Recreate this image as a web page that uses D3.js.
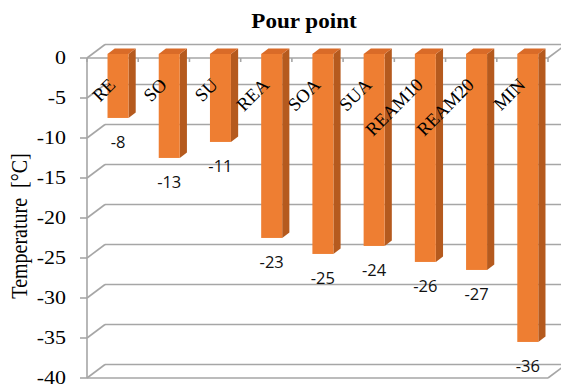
<!DOCTYPE html>
<html>
<head>
<meta charset="utf-8">
<script src="https://cdn.jsdelivr.net/npm/d3@7"></script>
<style>
  html, body { margin: 0; padding: 0; background: #fff; }
  svg { display: block; }
</style>
</head>
<body>
<svg id="chart" width="561" height="389"></svg>
<script>
// Pour point of each sample, °C
const categories = ["RE", "SO", "SU", "REA", "SOA", "SUA", "REAM10", "REAM20", "MIN"];
const pourPoint = [-8, -13, -11, -23, -25, -24, -26, -27, -36];
const yTicks = [0, -5, -10, -15, -20, -25, -30, -35, -40];

const svg = d3.select("#chart");

// plot frame (front plane) and the pseudo-3D depth offset
const plotL = 87, plotR = 548, plotT = 58, plotB = 378;
const DX = 18, DY = -13.5;          // offset of the back wall
const f0 = 0.3, f1 = 0.7;           // bar depth span, as fraction of the wall depth

const x = d3.scaleBand().domain(categories).range([plotL, plotR]);
const y = d3.scaleLinear().domain([-40, 0]).range([plotB, plotT]);
const barW = x.bandwidth() * 0.41;

const serif = "'Liberation Serif', 'Times New Roman', serif";

const grid = svg.append("g")
  .attr("fill", "none")
  .attr("stroke", "#a6a6a6")
  .attr("stroke-width", 1.6);

// back wall gridlines and the left-wall diagonals
yTicks.forEach(t => {
  const yy = y(t);
  grid.append("line").attr("x1", plotL + DX).attr("x2", plotR + DX + 20)
    .attr("y1", yy + DY).attr("y2", yy + DY);
  grid.append("line").attr("x1", plotL).attr("x2", plotL + DX)
    .attr("y1", yy).attr("y2", yy + DY);
  // y tick mark
  grid.append("line").attr("x1", plotL - 7).attr("x2", plotL)
    .attr("y1", yy).attr("y2", yy);
});

// front vertical axis
grid.append("line").attr("x1", plotL).attr("x2", plotL).attr("y1", plotT).attr("y2", plotB);
// front edges at the top (0) and floor (-40), with right-hand diagonals
[0, -40].forEach(t => {
  const yy = y(t);
  grid.append("line").attr("x1", plotL).attr("x2", plotR).attr("y1", yy).attr("y2", yy);
  grid.append("line").attr("x1", plotR).attr("x2", plotR + DX).attr("y1", yy).attr("y2", yy + DY);
});
// category ticks along the top front edge
d3.range(categories.length + 1).forEach(i => {
  const xx = plotL + i * x.step();
  grid.append("line").attr("x1", xx).attr("x2", xx).attr("y1", y(0)).attr("y2", y(0) + 4);
});

// y tick labels (slightly wide-set type)
svg.append("g").selectAll("text").data(yTicks).join("text")
  .attr("transform", d => `translate(66,${y(d)}) scale(1.22,1)`)
  .attr("dy", "0.35em")
  .attr("text-anchor", "end")
  .attr("font-family", serif)
  .attr("font-size", 18)
  .attr("fill", "#000")
  .text(d => d);

// bars: front face, right side face, top face
const bars = svg.append("g").selectAll("g").data(categories).join("g");
bars.each(function (c, i) {
  const g = d3.select(this);
  const v = pourPoint[i];
  const xc = x(c) + x.bandwidth() / 2;
  const x0 = xc - barW / 2 + f0 * DX, x1 = x0 + barW;
  const yT = y(0) + f0 * DY, yB = y(v) + f0 * DY;
  const ddx = (f1 - f0) * DX, ddy = (f1 - f0) * DY;
  g.append("path")
    .attr("d", `M${x1},${yT}L${x1 + ddx},${yT + ddy}L${x1 + ddx},${yB + ddy}L${x1},${yB}Z`)
    .attr("fill", "#b55a1e");
  g.append("path")
    .attr("d", `M${x0},${yT}L${x0 + ddx},${yT + ddy}L${x1 + ddx},${yT + ddy}L${x1},${yT}Z`)
    .attr("fill", "#d96b28");
  g.append("rect")
    .attr("x", x0).attr("y", yT).attr("width", barW).attr("height", yB - yT)
    .attr("fill", "#ee7e32");
});

// category labels, slanted
svg.append("g").selectAll("text").data(categories).join("text")
  .attr("transform", c => `translate(${x(c) + x.bandwidth() / 2 + 4},86) rotate(-45)`)
  .attr("text-anchor", "end")
  .attr("font-family", serif)
  .attr("font-size", 18.5)
  .attr("fill", "#000")
  .text(c => c);

// value labels under each bar
svg.append("g").selectAll("text").data(categories).join("text")
  .attr("x", c => x(c) + x.bandwidth() / 2 + f0 * DX)
  .attr("y", (c, i) => y(pourPoint[i]) + 20)
  .attr("dy", "0.35em")
  .attr("text-anchor", "middle")
  .attr("font-family", "'Open Sans', 'Liberation Sans', sans-serif")
  .attr("font-size", 16.5)
  .attr("fill", "#111")
  .text((c, i) => pourPoint[i]);

// title
svg.append("text")
  .attr("transform", "translate(304,28) scale(1.1,1)")
  .attr("text-anchor", "middle")
  .attr("font-family", serif)
  .attr("font-weight", "bold")
  .attr("font-size", 21)
  .attr("fill", "#000")
  .text("Pour point");

// y axis title
svg.append("text")
  .attr("transform", "translate(27,226) rotate(-90) scale(1,1.15)")
  .attr("text-anchor", "middle")
  .attr("font-family", serif)
  .attr("font-size", 20)
  .attr("fill", "#000")
  .attr("xml:space", "preserve")
  .text("Temperature  [°C]");
</script>
</body>
</html>
